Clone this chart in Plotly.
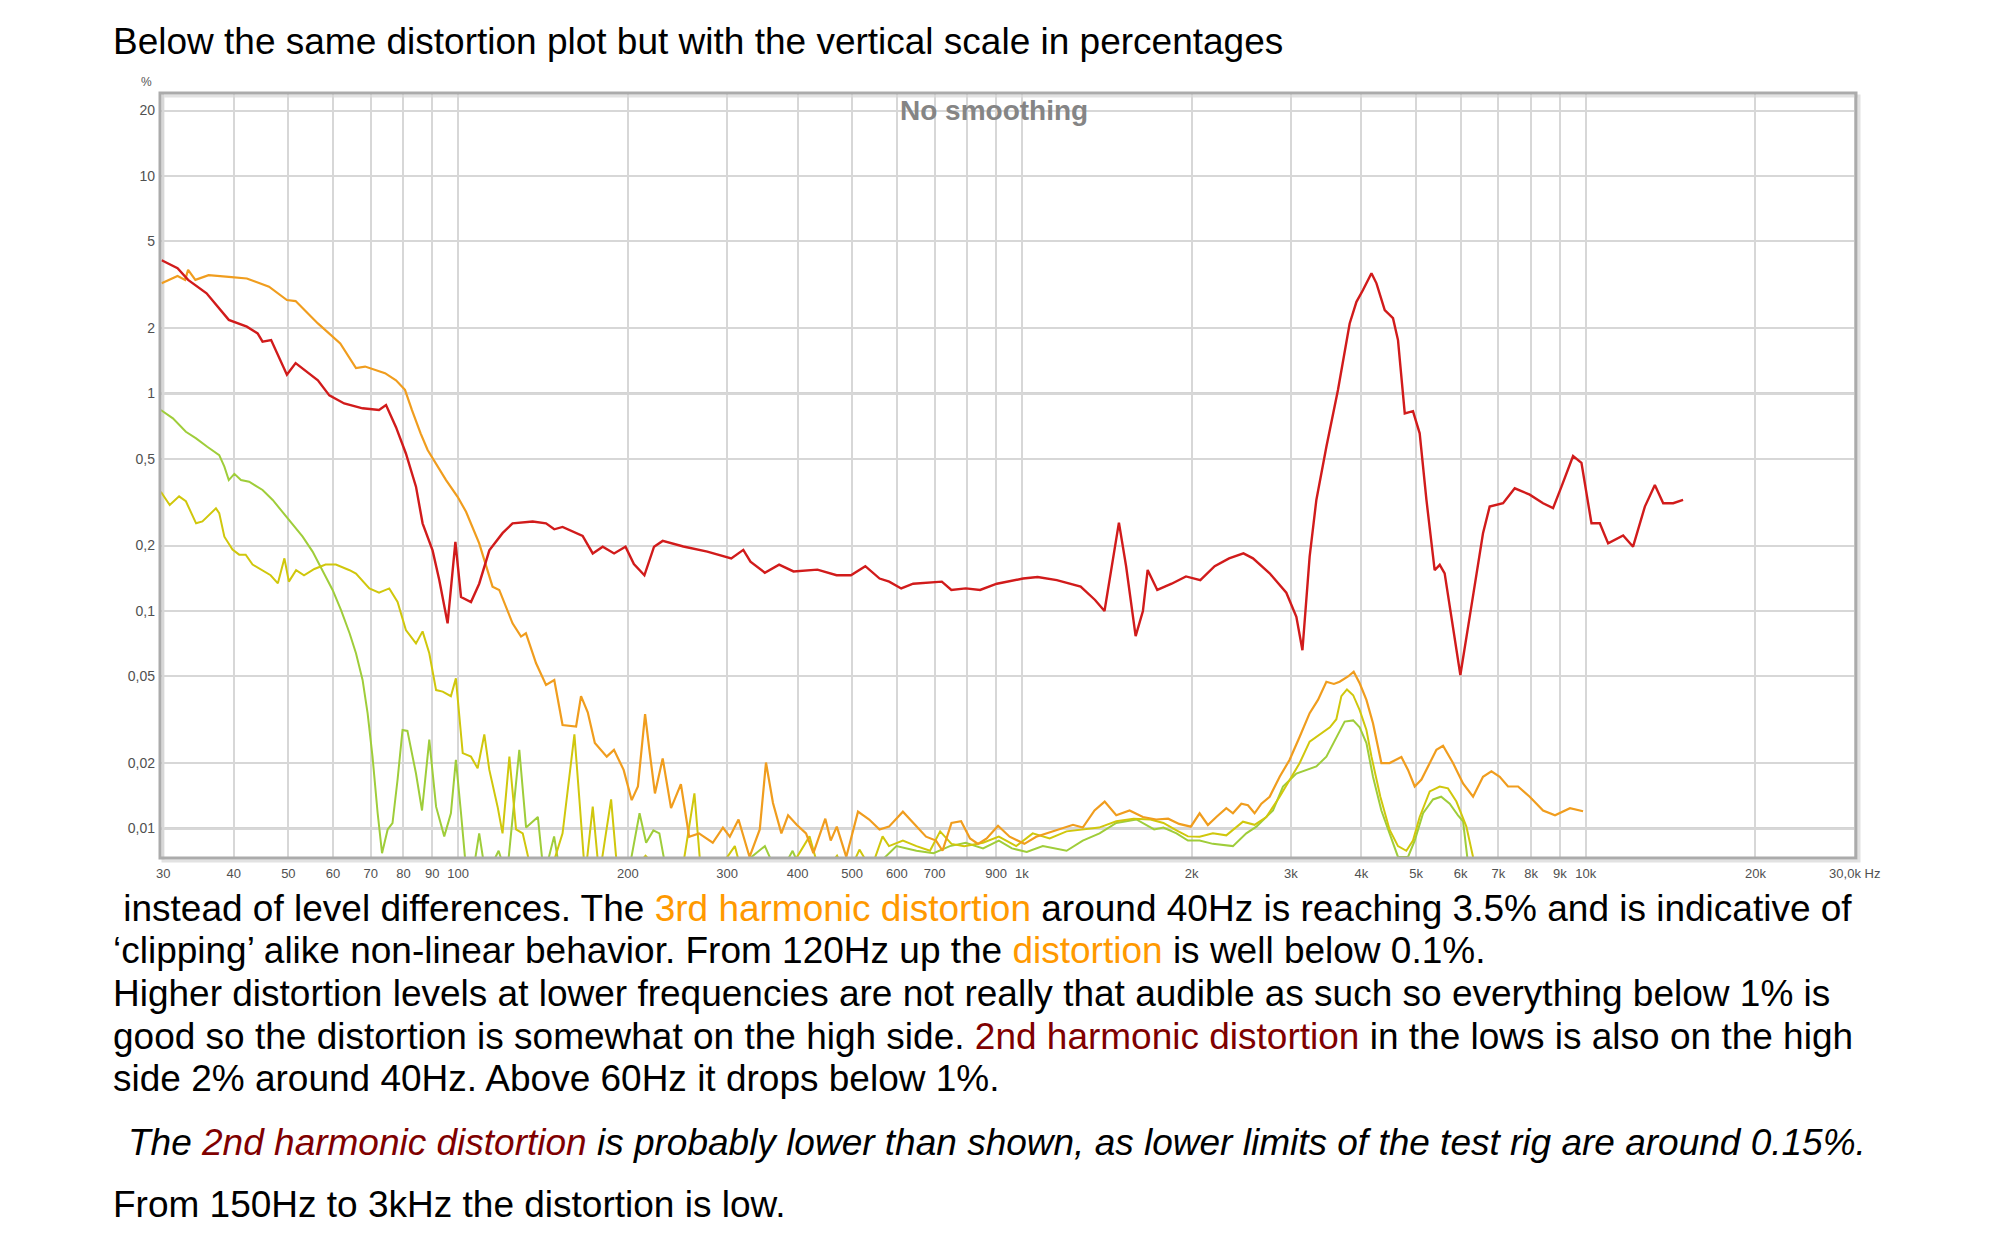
import math
import plotly.graph_objects as go

# ---------------- data ----------------
h2_freq = [29.8, 31.8, 33.2, 35.8, 39.2, 42.2, 44.1, 45.0, 46.6, 48.3, 49.7, 51.5, 54.4, 56.4, 59.1,
           62.8, 67.7, 72.4, 74.5, 77.6, 80.8, 84.2, 86.5, 90.1, 92.6, 95.8, 98.9, 101.2, 105.4, 109.0,
           113.6, 119.9, 124.9, 135.6, 143.2, 148.1, 153.2, 159.7, 166.3, 173.3, 180.5, 189.1, 198.1,
           205, 214, 222.6, 230.6, 250.9, 276.7, 305.1, 320.5, 330, 349.9, 371, 393.4, 433.8, 469.1,
           497.4, 527.5, 559.2, 581.5, 610.8, 641.3, 721, 749.6, 795, 843, 902.7, 1005, 1066, 1153,
           1271, 1348, 1401, 1443, 1486, 1530, 1591, 1639, 1671, 1738, 1843, 1954, 2072, 2197, 2330,
           2471, 2569, 2750, 2944, 3067, 3144, 3238, 3328, 3467, 3635, 3813, 3920, 4026, 4168, 4254,
           4400, 4551, 4645, 4775, 4938, 5075, 5217, 5395, 5508, 5620, 5992, 6225, 6573, 6754, 7134,
           7482, 7954, 8400, 8750, 9056, 9495, 9826, 10236, 10590, 10956, 11650, 12130, 12730, 13260,
           13720, 14290, 14880]
h2_pct = [4.1, 3.77, 3.33, 2.89, 2.18, 2.03, 1.89, 1.73, 1.76, 1.43, 1.22, 1.38, 1.24, 1.15, 0.98,
          0.90, 0.855, 0.84, 0.885, 0.70, 0.53, 0.373, 0.253, 0.19, 0.139, 0.0878, 0.208, 0.116, 0.11,
          0.1335, 0.19, 0.228, 0.253, 0.258, 0.253, 0.2375, 0.2436, 0.232, 0.2215, 0.184, 0.1976, 0.184,
          0.1976, 0.1643, 0.146, 0.1976, 0.21, 0.198, 0.1875, 0.1746, 0.191, 0.1686, 0.15, 0.1633,
          0.152, 0.155, 0.146, 0.146, 0.1608, 0.141, 0.1365, 0.127, 0.1335, 0.1365, 0.125, 0.127,
          0.125, 0.1335, 0.141, 0.1434, 0.1387, 0.1294, 0.1124, 0.1, 0.161, 0.255, 0.161, 0.0767, 0.1,
          0.1545, 0.125, 0.1335, 0.1442, 0.1387, 0.1608, 0.1746, 0.184, 0.1746, 0.149, 0.1214, 0.094,
          0.066, 0.178, 0.324, 0.569, 1.038, 2.10, 2.64, 2.99, 3.57, 3.21, 2.42, 2.22, 1.76, 0.81, 0.83,
          0.656, 0.324, 0.154, 0.163, 0.149, 0.0508, 0.094, 0.2276, 0.302, 0.3133, 0.3666, 0.3428,
          0.313, 0.297, 0.373, 0.516, 0.48, 0.253, 0.253, 0.2045, 0.2225, 0.1976, 0.302, 0.3792, 0.313,
          0.313, 0.324]

h3_freq = [29.8, 31.8, 32.8, 33.2, 34.2, 36.1, 39.2, 42.2, 46.2, 49.7, 51.5, 56.4, 61.8, 65.9, 68.4,
           74.2, 77.6, 80.5, 82.8, 85.8, 88.3, 95.2, 99.8, 103.3, 109, 115.1, 118.3, 124.9, 129.3,
           131.9, 137.5, 143.2, 148.1, 153.2, 161.9, 165.2, 169.8, 174.8, 183.5, 189, 196.6, 203.2,
           208.4, 214.6, 218.4, 223.4, 230.6, 238.6, 248.4, 256.9, 267.5, 282.9, 294.9, 303.3, 314.3,
           328.8, 342.8, 351.6, 361.8, 374.4, 384.8, 398.6, 414.1, 426.7, 448, 458, 469.5, 488, 512,
           536, 559, 581, 615, 650, 676, 704, 723, 750, 780, 809, 836, 866, 907, 951, 1010, 1060, 1136,
           1232, 1282, 1345, 1402, 1470, 1552, 1639, 1730, 1817, 1900, 1993, 2066, 2137, 2212, 2304,
           2367, 2450, 2517, 2586, 2659, 2750, 2865, 2984, 3109, 3238, 3350, 3467, 3575, 3660, 3788,
           3876, 3972, 4083, 4194, 4340, 4488, 4710, 4839, 4973, 5112, 5288, 5434, 5583, 5815, 6058,
           6311, 6573, 6803, 7038, 7280, 7585, 7954, 8400, 8820, 9376, 9890]
h3_pct = [3.21, 3.47, 3.33, 3.70, 3.33, 3.5, 3.44, 3.38, 3.1, 2.69, 2.66, 2.10, 1.70, 1.31, 1.33,
          1.24, 1.15, 1.04, 0.84, 0.656, 0.55, 0.40, 0.335, 0.286, 0.2045, 0.1294, 0.125, 0.0878,
          0.0763, 0.079, 0.0575, 0.0457, 0.0482, 0.0299, 0.0294, 0.0406, 0.0342, 0.0247, 0.0214,
          0.023, 0.0186, 0.0135, 0.0156, 0.0336, 0.023, 0.0145, 0.021, 0.0124, 0.016, 0.00917, 0.0095,
          0.0086, 0.0101, 0.00917, 0.011, 0.0074, 0.0099, 0.0201, 0.0131, 0.0095, 0.0115, 0.0104,
          0.0095, 0.0077, 0.0111, 0.0088, 0.0102, 0.0074, 0.01195, 0.011, 0.0099, 0.0102, 0.01195,
          0.0102, 0.00917, 0.0088, 0.0079, 0.0106, 0.0108, 0.009, 0.0085, 0.009, 0.0103, 0.00917,
          0.0085, 0.00917, 0.0097, 0.0104, 0.0101, 0.0121, 0.0133, 0.0115, 0.0121, 0.0113, 0.011,
          0.0111, 0.0105, 0.0102, 0.01175, 0.01038, 0.0113, 0.0124, 0.01175, 0.013, 0.0128, 0.01175,
          0.013, 0.014, 0.0173, 0.0207, 0.0264, 0.0339, 0.039, 0.0473, 0.0462, 0.0473, 0.05, 0.0526,
          0.0465, 0.039, 0.0305, 0.02, 0.02, 0.0213, 0.0186, 0.0156, 0.0168, 0.02, 0.023, 0.024, 0.02,
          0.0161, 0.014, 0.0173, 0.0183, 0.0173, 0.0156, 0.0156, 0.014, 0.0121, 0.0115, 0.0124, 0.012]

h4_freq = [29.7, 30.8, 32.0, 32.9, 34.3, 35.2, 37.2, 37.7, 38.5, 39.8, 40.9, 42.0, 43.2, 45.0, 46.5,
           47.9, 49.2, 50.1, 51.6, 53.3, 55.6, 58.2, 60.7, 64.2, 65.9, 69.6, 72.4, 75.5, 78.1, 80.8,
           84.2, 86.5, 88.9, 91.4, 93.9, 97.1, 99.1, 101.9, 105.4, 108.3, 111.3, 113.6, 117.5, 119.9,
           123.3, 126.7, 130.2, 135.6, 145, 153.2, 160.8, 164.1, 168, 173.3, 178, 186.8, 192, 200, 215,
           232, 250, 262.5, 270, 290, 309.6, 320, 350, 380, 420, 440, 470, 490, 515, 540, 566, 581, 615,
           650, 687, 716, 750, 790, 853, 910, 977, 1045, 1120, 1200, 1282, 1370, 1470, 1578, 1690,
           1782, 1880, 1970, 2066, 2181, 2304, 2466, 2586, 2713, 2865, 2984, 3109, 3238, 3374, 3517,
           3611, 3686, 3771, 3868, 3972, 4083, 4168, 4322, 4488, 4645, 4806, 4938, 5075, 5288, 5508,
           5697, 5896, 6141, 6311, 6450]
h4_pct = [0.3535, 0.307, 0.3365, 0.3196, 0.253, 0.258, 0.2966, 0.282, 0.2196, 0.1916, 0.1816, 0.1816,
          0.1634, 0.154, 0.146, 0.134, 0.1746, 0.1365, 0.154, 0.146, 0.156, 0.1634, 0.1634, 0.154,
          0.1485, 0.127, 0.1214, 0.127, 0.11, 0.0818, 0.071, 0.0806, 0.0639, 0.0433, 0.0426, 0.0406,
          0.049, 0.0222, 0.0214, 0.0189, 0.0271, 0.0186, 0.0126, 0.0095, 0.0214, 0.0099, 0.0095, 0.006,
          0.006, 0.0095, 0.0271, 0.0136, 0.006, 0.0126, 0.006, 0.0136, 0.006, 0.006, 0.0075, 0.006,
          0.0065, 0.0145, 0.006, 0.0065, 0.0083, 0.006, 0.0072, 0.006, 0.0092, 0.006, 0.0075, 0.006,
          0.008, 0.0065, 0.0092, 0.0083, 0.0088, 0.0083, 0.0079, 0.0097, 0.0085, 0.0083, 0.0086,
          0.00917, 0.0083, 0.0095, 0.009, 0.0097, 0.0099, 0.0101, 0.0108, 0.0111, 0.011, 0.0106,
          0.0098, 0.0092, 0.00917, 0.0095, 0.0093, 0.01075, 0.0104, 0.0113, 0.014, 0.0168, 0.02, 0.0251,
          0.0271, 0.0292, 0.0318, 0.0406, 0.0436, 0.041, 0.035, 0.0284, 0.0214, 0.014, 0.00987, 0.0083,
          0.0079, 0.0088, 0.0113, 0.0148, 0.0156, 0.0153, 0.0133, 0.0102, 0.0074, 0.006]

h5_freq = [29.7, 31.2, 32.9, 34.3, 35.9, 37.7, 38.5, 39.2, 40.1, 41.2, 42.6, 45.0, 46.9, 48.8, 50.8,
           53.0, 55.2, 57.5, 59.9, 62.0, 64.2, 65.9, 67.7, 69.1, 70.5, 72.0, 73.3, 75.0, 76.5, 78.1,
           79.7, 81.3, 84.2, 86.3, 88.9, 91.4, 94.5, 97.1, 99.1, 101.2, 103.3, 106, 109, 112, 118, 122,
           128.4, 132, 138.5, 142, 148, 152, 200, 209.8, 215.5, 222, 227.5, 235, 300, 350, 370, 392, 410,
           500, 560, 599, 650, 697, 745, 795, 853, 910, 960, 1020, 1089, 1200, 1282, 1373, 1470, 1596,
           1716, 1782, 1880, 1970, 2066, 2181, 2367, 2500, 2605, 2788, 2904, 3067, 3195, 3328, 3467,
           3611, 3736, 3868, 3972, 4083, 4194, 4340, 4488, 4645, 4839, 4973, 5146, 5359, 5540, 5737,
           5935, 6058, 6200]
h5_pct = [0.84, 0.769, 0.667, 0.622, 0.569, 0.521, 0.461, 0.40, 0.427, 0.40, 0.393, 0.36, 0.324, 0.286,
          0.253, 0.2196, 0.1875, 0.154, 0.125, 0.101, 0.079, 0.0639, 0.0482, 0.0339, 0.0214, 0.01175,
          0.0077, 0.0099, 0.0106, 0.0168, 0.0284, 0.0281, 0.0179, 0.0121, 0.0256, 0.0126, 0.0092,
          0.01175, 0.0207, 0.01175, 0.0065, 0.006, 0.0095, 0.006, 0.0079, 0.006, 0.023, 0.0101, 0.0113,
          0.006, 0.0092, 0.006, 0.006, 0.01175, 0.0086, 0.0098, 0.0095, 0.006, 0.006, 0.0083, 0.006,
          0.0079, 0.006, 0.006, 0.007, 0.0083, 0.0079, 0.0077, 0.0083, 0.0086, 0.0081, 0.0088, 0.0081,
          0.0078, 0.0083, 0.0079, 0.0088, 0.0095, 0.0106, 0.011, 0.0099, 0.0101, 0.0095, 0.0088, 0.0088,
          0.0085, 0.0083, 0.0095, 0.0102, 0.0121, 0.0156, 0.0179, 0.0186, 0.0193, 0.0214, 0.0264, 0.031,
          0.0314, 0.0292, 0.0247, 0.0173, 0.0121, 0.0095, 0.0074, 0.0074, 0.0088, 0.01175, 0.0136, 0.014,
          0.013, 0.0115, 0.0108, 0.0065]

x_tick_vals = [30, 40, 50, 60, 70, 80, 90, 100, 200, 300, 400, 500, 600, 700, 800, 900, 1000,
               2000, 3000, 4000, 5000, 6000, 7000, 8000, 9000, 10000, 20000, 30000]
x_tick_text = ["30", "40", "50", "60", "70", "80", "90", "100", "200", "300", "400", "500", "600",
               "700", "", "900", "1k", "2k", "3k", "4k", "5k", "6k", "7k", "8k", "9k", "10k", "20k",
               "30,0k Hz"]
y_tick_vals = [0.01, 0.02, 0.05, 0.1, 0.2, 0.5, 1, 2, 5, 10, 20]
y_tick_text = ["0,01", "0,02", "0,05", "0,1", "0,2", "0,5", "1", "2", "5", "10", "20"]
y_major_grid = [0.01, 0.1, 1, 10]

heading = "Below the same distortion plot but with the vertical scale in percentages"
ORANGE_TXT = "#ff9900"
DKRED_TXT = "#800000"
O_OPEN = "<span style='color:" + ORANGE_TXT + "'>"
R_OPEN = "<span style='color:" + DKRED_TXT + "'>"
CLOSE = "</span>"
body_lines = [
    " instead of level differences. The " + O_OPEN + "3rd harmonic distortion" + CLOSE
    + " around 40Hz is reaching 3.5% and is indicative of",
    "\u2018clipping\u2019 alike non-linear behavior. From 120Hz up the " + O_OPEN + "distortion" + CLOSE
    + " is well below 0.1%.",
    "Higher distortion levels at lower frequencies are not really that audible as such so everything below 1% is",
    "good so the distortion is somewhat on the high side. " + R_OPEN + "2nd harmonic distortion" + CLOSE
    + " in the lows is also on the high",
    "side 2% around 40Hz. Above 60Hz it drops below 1%.",
    "<i>The " + R_OPEN + "2nd harmonic distortion" + CLOSE
    + " is probably lower than shown, as lower limits of the test rig are around 0.15%.</i>",
    "From 150Hz to 3kHz the distortion is low.",
]
body_y_px = [908, 950, 993, 1036, 1078, 1142, 1204]
body_x_px = [111, 111, 111, 111, 111, 126, 111]

# ---------------- geometry (page pixels; the page body has an 8px margin) ----------------
OFF = 8
PAGE_W, PAGE_H = 2000, 1250
W, H = PAGE_W - OFF, PAGE_H - OFF
FR_L, FR_R, FR_T, FR_B = 160, 1856, 93, 858        # plot frame in page pixels
L, R, T, B = FR_L - OFF, W - (FR_R - OFF), FR_T - OFF, H - (FR_B - OFF)
PW, PH = W - L - R, H - T - B


def px(xp):
    return (xp - OFF - L) / PW


def py(yp):
    return (H - B - (yp - OFF)) / PH


TXT_FONT = "Liberation Sans, Arial, sans-serif"
BODY_SIZE = 37

fig = go.Figure()
series = [
    ("H5", h5_freq, h5_pct, "#9fcd3a", 2.0),
    ("H4", h4_freq, h4_pct, "#d0c70c", 2.0),
    ("H3", h3_freq, h3_pct, "#f09d1e", 2.2),
    ("H2", h2_freq, h2_pct, "#d11b1b", 2.4),
]
for name, fx, fy, col, w in series:
    fig.add_trace(go.Scatter(x=fx, y=fy, mode="lines", name=name,
                             line=dict(color=col, width=w), hoverinfo="x+y"))

shapes = []
for v in y_major_grid:
    shapes.append(dict(type="line", xref="paper", yref="y", x0=0, x1=1, y0=v, y1=v,
                       line=dict(color="#a9a9a9", width=2), layer="between"))
shapes.append(dict(type="rect", xref="paper", yref="paper", x0=px(FR_L + 3), x1=px(FR_R + 3),
                   y0=py(FR_B + 3), y1=py(FR_T + 3), line=dict(color="#e2e2e2", width=3), layer="below"))
shapes.append(dict(type="rect", xref="paper", yref="paper", x0=0, x1=1, y0=0, y1=1,
                   line=dict(color="#ababab", width=3), layer="above"))

annotations = [
    dict(text=heading, x=px(111), y=py(41), xref="paper", yref="paper", xanchor="left",
         yanchor="middle", showarrow=False,
         font=dict(family=TXT_FONT, size=BODY_SIZE, color="#000000")),
    dict(text="<b>No smoothing</b>", x=px(994), y=py(110), xref="paper", yref="paper",
         xanchor="center", yanchor="middle", showarrow=False,
         font=dict(family=TXT_FONT, size=28, color="#858585")),
    dict(text="%", x=px(146), y=py(82), xref="paper", yref="paper", xanchor="center",
         yanchor="middle", showarrow=False, font=dict(family=TXT_FONT, size=12, color="#555555")),
]
for txt, yy, xx in zip(body_lines, body_y_px, body_x_px):
    annotations.append(dict(text=txt, x=px(xx), y=py(yy), xref="paper", yref="paper",
                            xanchor="left", yanchor="middle", showarrow=False,
                            font=dict(family=TXT_FONT, size=BODY_SIZE, color="#000000")))

fig.update_layout(
    width=W, height=H,
    margin=dict(l=L, r=R, t=T, b=B, pad=0),
    paper_bgcolor="white", plot_bgcolor="white",
    showlegend=False,
    shapes=shapes,
    annotations=annotations,
    xaxis=dict(type="log", range=[math.log10(29.6), math.log10(30150)],
               tickmode="array", tickvals=x_tick_vals, ticktext=x_tick_text,
               showgrid=True, gridcolor="#d7d7d7", gridwidth=2, zeroline=False,
               showline=False, ticks="", ticklabelstandoff=6,
               tickfont=dict(family=TXT_FONT, size=13, color="#505050")),
    yaxis=dict(type="log", range=[-2.1356, 1.3816],
               tickmode="array", tickvals=y_tick_vals, ticktext=y_tick_text,
               showgrid=True, gridcolor="#d7d7d7", gridwidth=2, zeroline=False,
               showline=False, ticks="", ticklabelstandoff=4,
               tickfont=dict(family=TXT_FONT, size=14, color="#505050")),
)

fig.write_html("out.html")
